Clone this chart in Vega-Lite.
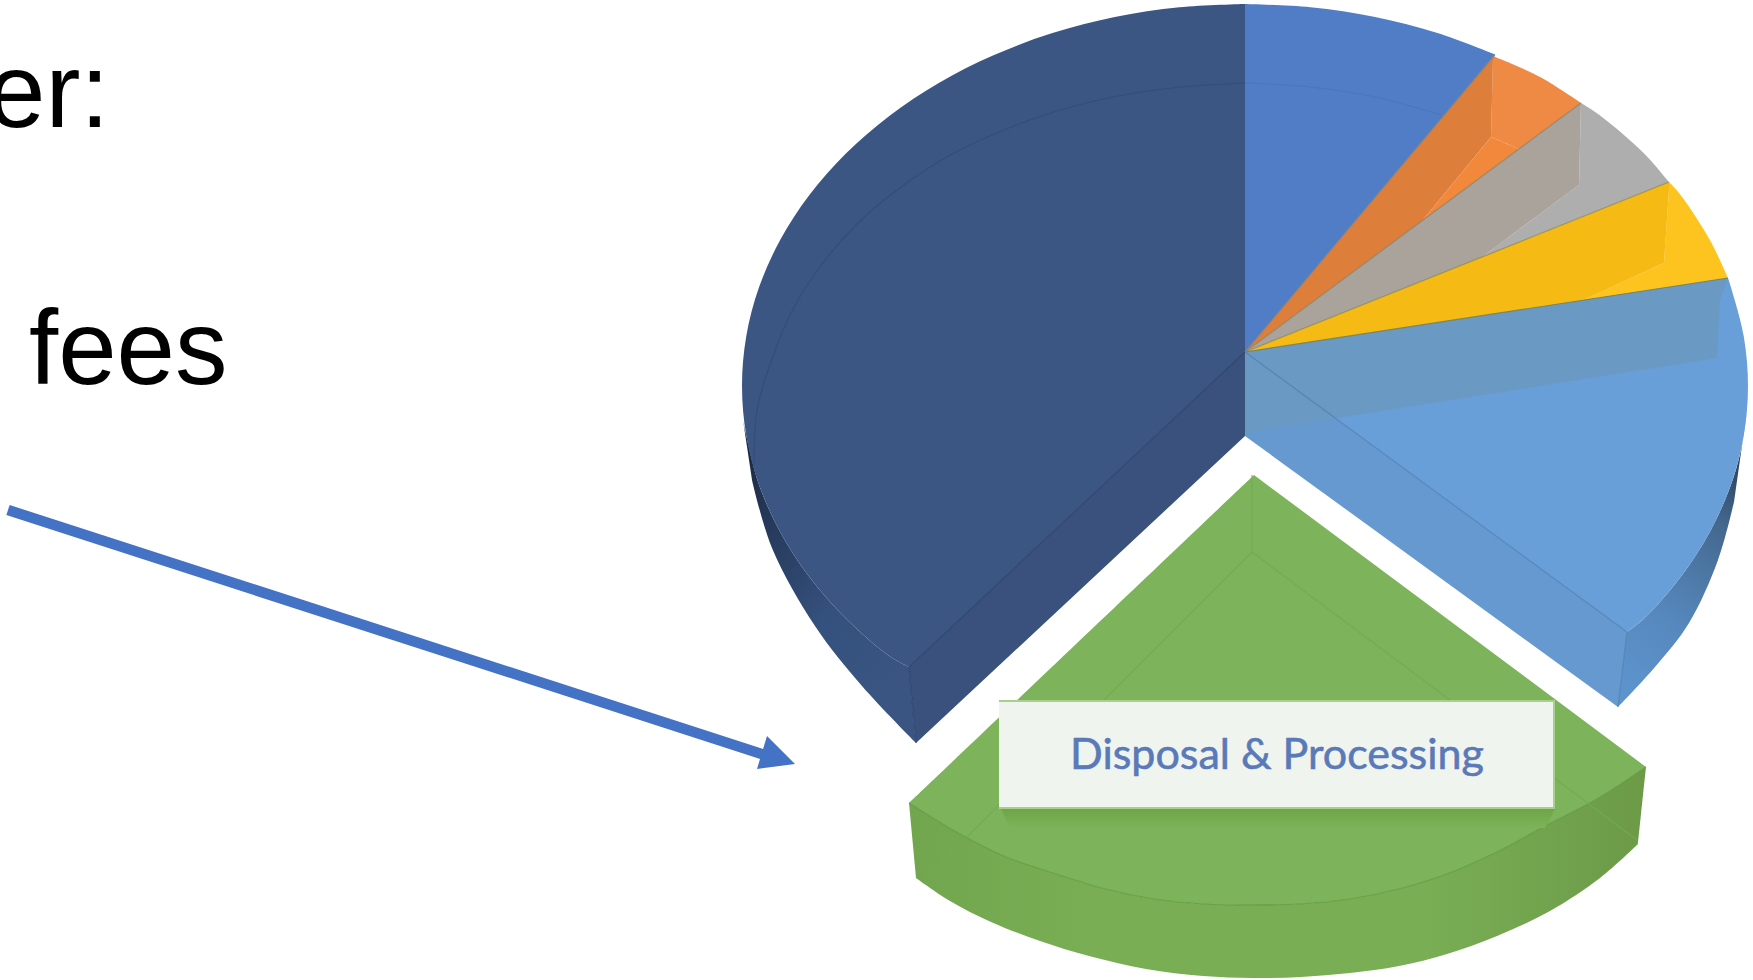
{
  "$schema": "https://vega.github.io/schema/vega-lite/v6.json",
  "width": 1753,
  "height": 980,
  "padding": 0,
  "autosize": "none",
  "background": "white",
  "view": {"stroke": null},
  "datasets": {
    "walls": [
      {"part":"wallDark","i":0,"x":743,"y":420},{"part":"wallDark","i":1,"x":746.3,"y":435.9},{"part":"wallDark","i":2,"x":759.1,"y":484.9},{"part":"wallDark","i":3,"x":780.3,"y":532.2},{"part":"wallDark","i":4,"x":809.4,"y":577},{"part":"wallDark","i":5,"x":845.9,"y":618.6},{"part":"wallDark","i":6,"x":889.3,"y":656.1},{"part":"wallDark","i":7,"x":909,"y":667},{"part":"wallDark","i":7.5,"x":909,"y":667},{"part":"wallDark","i":8,"x":916,"y":743},{"part":"wallDark","i":8.5,"x":916,"y":743},{"part":"wallDark","i":9,"x":862,"y":686},{"part":"wallDark","i":10,"x":815,"y":626},{"part":"wallDark","i":11,"x":772,"y":548},{"part":"wallDark","i":12,"x":752,"y":480},
      {"part":"wallLight","i":0,"x":1747,"y":410},{"part":"wallLight","i":1,"x":1741,"y":450},{"part":"wallLight","i":2,"x":1730.9,"y":484.9},{"part":"wallLight","i":3,"x":1709.7,"y":532.2},{"part":"wallLight","i":4,"x":1680.6,"y":577},{"part":"wallLight","i":5,"x":1644.1,"y":618.6},{"part":"wallLight","i":6,"x":1627,"y":632},{"part":"wallLight","i":6.5,"x":1627,"y":632},{"part":"wallLight","i":7,"x":1618,"y":707},{"part":"wallLight","i":7.5,"x":1618,"y":707},{"part":"wallLight","i":8,"x":1655,"y":667},{"part":"wallLight","i":9,"x":1689,"y":623},{"part":"wallLight","i":10,"x":1718,"y":560},{"part":"wallLight","i":11,"x":1734,"y":502},
      {"part":"wallGreen","i":0,"x":909,"y":803},{"part":"wallGreen","i":1,"x":958,"y":833},{"part":"wallGreen","i":2,"x":1006,"y":857},{"part":"wallGreen","i":3,"x":1056,"y":874},{"part":"wallGreen","i":4,"x":1105,"y":889},{"part":"wallGreen","i":5,"x":1154,"y":899},{"part":"wallGreen","i":6,"x":1203,"y":904},{"part":"wallGreen","i":7,"x":1252,"y":905},{"part":"wallGreen","i":8,"x":1301,"y":904},{"part":"wallGreen","i":9,"x":1350,"y":899},{"part":"wallGreen","i":10,"x":1399,"y":889},{"part":"wallGreen","i":11,"x":1447,"y":874},{"part":"wallGreen","i":12,"x":1497,"y":852},{"part":"wallGreen","i":13,"x":1545,"y":826},{"part":"wallGreen","i":14,"x":1597,"y":799},{"part":"wallGreen","i":15,"x":1646,"y":767},{"part":"wallGreen","i":15.5,"x":1646,"y":767},{"part":"wallGreen","i":16,"x":1638,"y":844},{"part":"wallGreen","i":16.5,"x":1638,"y":844},{"part":"wallGreen","i":17,"x":1600,"y":878},{"part":"wallGreen","i":18,"x":1550,"y":911},{"part":"wallGreen","i":19,"x":1497,"y":936},{"part":"wallGreen","i":20,"x":1447,"y":954},{"part":"wallGreen","i":21,"x":1399,"y":966},{"part":"wallGreen","i":22,"x":1350,"y":973},{"part":"wallGreen","i":23,"x":1301,"y":977},{"part":"wallGreen","i":24,"x":1252,"y":978},{"part":"wallGreen","i":25,"x":1203,"y":976},{"part":"wallGreen","i":26,"x":1146,"y":969},{"part":"wallGreen","i":27,"x":1089,"y":956},{"part":"wallGreen","i":28,"x":1040,"y":941},{"part":"wallGreen","i":29,"x":991,"y":922},{"part":"wallGreen","i":30,"x":950,"y":901},{"part":"wallGreen","i":31,"x":916,"y":878}
    ],
    "curvedFaces": [
      {"part":"Largest slice","i":0,"x":1245,"y":352},{"part":"Largest slice","i":0.5,"x":1245,"y":352},{"part":"Largest slice","i":1,"x":1245,"y":4},{"part":"Largest slice","i":1.5,"x":1245,"y":4},{"part":"Largest slice","i":2,"x":1179.4,"y":7.3},{"part":"Largest slice","i":3,"x":1114.8,"y":17},{"part":"Largest slice","i":4,"x":1052.5,"y":33.1},{"part":"Largest slice","i":5,"x":993.5,"y":55.2},{"part":"Largest slice","i":6,"x":938.8,"y":82.9},{"part":"Largest slice","i":7,"x":889.3,"y":115.9},{"part":"Largest slice","i":8,"x":845.9,"y":153.4},{"part":"Largest slice","i":9,"x":809.4,"y":195},{"part":"Largest slice","i":10,"x":780.3,"y":239.8},{"part":"Largest slice","i":11,"x":759.1,"y":287.1},{"part":"Largest slice","i":12,"x":746.3,"y":336.1},{"part":"Largest slice","i":13,"x":742,"y":386},{"part":"Largest slice","i":14,"x":746.3,"y":435.9},{"part":"Largest slice","i":15,"x":759.1,"y":484.9},{"part":"Largest slice","i":16,"x":780.3,"y":532.2},{"part":"Largest slice","i":17,"x":809.4,"y":577},{"part":"Largest slice","i":18,"x":845.9,"y":618.6},{"part":"Largest slice","i":19,"x":889.3,"y":656.1},{"part":"Largest slice","i":20,"x":909,"y":667},
      {"part":"Blue slice","i":0,"x":1245,"y":352},{"part":"Blue slice","i":0.5,"x":1245,"y":352},{"part":"Blue slice","i":1,"x":1245,"y":4},{"part":"Blue slice","i":1.5,"x":1245,"y":4},{"part":"Blue slice","i":2,"x":1310.6,"y":7.3},{"part":"Blue slice","i":3,"x":1375.2,"y":17},{"part":"Blue slice","i":4,"x":1437.5,"y":33.1},{"part":"Blue slice","i":5,"x":1495,"y":54.5},
      {"part":"Orange rim","i":0,"x":1493,"y":56},{"part":"Orange rim","i":0.5,"x":1493,"y":56},{"part":"Orange rim","i":1,"x":1540,"y":77},{"part":"Orange rim","i":2,"x":1581,"y":103},{"part":"Orange rim","i":2.5,"x":1581,"y":103},{"part":"Orange rim","i":3,"x":1519,"y":149},{"part":"Orange rim","i":3.5,"x":1519,"y":149},{"part":"Orange rim","i":4,"x":1491,"y":137},
      {"part":"Grey rim","i":0,"x":1581,"y":103},{"part":"Grey rim","i":0.5,"x":1581,"y":103},{"part":"Grey rim","i":1,"x":1600.7,"y":115.9},{"part":"Grey rim","i":2,"x":1644.1,"y":153.4},{"part":"Grey rim","i":3,"x":1669,"y":182},{"part":"Grey rim","i":3.5,"x":1669,"y":182},{"part":"Grey rim","i":4,"x":1482,"y":257},{"part":"Grey rim","i":4.5,"x":1482,"y":257},{"part":"Grey rim","i":5,"x":1579,"y":185},{"part":"Grey rim","i":5.5,"x":1579,"y":185},
      {"part":"Yellow rim","i":0,"x":1669,"y":182},{"part":"Yellow rim","i":0.5,"x":1669,"y":182},{"part":"Yellow rim","i":1,"x":1680.6,"y":195},{"part":"Yellow rim","i":2,"x":1709.7,"y":239.8},{"part":"Yellow rim","i":3,"x":1728,"y":278},{"part":"Yellow rim","i":3.5,"x":1728,"y":278},{"part":"Yellow rim","i":4,"x":1581,"y":301},{"part":"Yellow rim","i":4.5,"x":1581,"y":301},{"part":"Yellow rim","i":5,"x":1664,"y":263},{"part":"Yellow rim","i":5.5,"x":1664,"y":263},{"part":"Yellow rim","i":6,"x":1669,"y":190},
      {"part":"Sky slice","i":0,"x":1245,"y":352},{"part":"Sky slice","i":0.5,"x":1245,"y":352},{"part":"Sky slice","i":1,"x":1728,"y":278},{"part":"Sky slice","i":1.5,"x":1728,"y":278},{"part":"Sky slice","i":2,"x":1730.9,"y":287.1},{"part":"Sky slice","i":3,"x":1743.7,"y":336.1},{"part":"Sky slice","i":4,"x":1748,"y":386},{"part":"Sky slice","i":5,"x":1743.7,"y":435.9},{"part":"Sky slice","i":6,"x":1730.9,"y":484.9},{"part":"Sky slice","i":7,"x":1709.7,"y":532.2},{"part":"Sky slice","i":8,"x":1680.6,"y":577},{"part":"Sky slice","i":9,"x":1644.1,"y":618.6},{"part":"Sky slice","i":10,"x":1627,"y":632},
      {"part":"Green face","i":0,"x":1254,"y":475},{"part":"Green face","i":0.5,"x":1254,"y":475},{"part":"Green face","i":1,"x":909,"y":803},{"part":"Green face","i":1.5,"x":909,"y":803},{"part":"Green face","i":2,"x":958,"y":833},{"part":"Green face","i":3,"x":1006,"y":857},{"part":"Green face","i":4,"x":1056,"y":874},{"part":"Green face","i":5,"x":1105,"y":889},{"part":"Green face","i":6,"x":1154,"y":899},{"part":"Green face","i":7,"x":1203,"y":904},{"part":"Green face","i":8,"x":1252,"y":905},{"part":"Green face","i":9,"x":1301,"y":904},{"part":"Green face","i":10,"x":1350,"y":899},{"part":"Green face","i":11,"x":1399,"y":889},{"part":"Green face","i":12,"x":1447,"y":874},{"part":"Green face","i":13,"x":1497,"y":852},{"part":"Green face","i":14,"x":1545,"y":826},{"part":"Green face","i":15,"x":1597,"y":799},{"part":"Green face","i":16,"x":1646,"y":767}
    ],
    "flatFaces": [
      {"part":"Largest slice cut","i":0,"x":1245,"y":352},{"part":"Largest slice cut","i":1,"x":909,"y":667},{"part":"Largest slice cut","i":2,"x":916,"y":743},{"part":"Largest slice cut","i":3,"x":1245,"y":436},
      {"part":"Orange slice","i":0,"x":1245,"y":352},{"part":"Orange slice","i":1,"x":1495,"y":54.5},{"part":"Orange slice","i":2,"x":1493,"y":60},{"part":"Orange slice","i":3,"x":1491,"y":137},{"part":"Orange slice","i":4,"x":1422,"y":221},
      {"part":"Orange sliver","i":0,"x":1491,"y":137},{"part":"Orange sliver","i":1,"x":1519,"y":149},{"part":"Orange sliver","i":2,"x":1422,"y":221},
      {"part":"Grey slice","i":0,"x":1245,"y":352},{"part":"Grey slice","i":1,"x":1581,"y":103},{"part":"Grey slice","i":2,"x":1579,"y":185},{"part":"Grey slice","i":3,"x":1482,"y":257},
      {"part":"Yellow slice","i":0,"x":1245,"y":352},{"part":"Yellow slice","i":1,"x":1669,"y":182},{"part":"Yellow slice","i":2,"x":1669,"y":190},{"part":"Yellow slice","i":3,"x":1664,"y":263},{"part":"Yellow slice","i":4,"x":1581,"y":301},
      {"part":"Sky cut","i":0,"x":1245,"y":352},{"part":"Sky cut","i":1,"x":1627,"y":632},{"part":"Sky cut","i":2,"x":1618,"y":707},{"part":"Sky cut","i":3,"x":1245,"y":436},
      {"part":"Sky back","i":0,"x":1245,"y":352},{"part":"Sky back","i":1,"x":1728,"y":278},{"part":"Sky back","i":2,"x":1720,"y":300},{"part":"Sky back","i":3,"x":1717,"y":358},{"part":"Sky back","i":4,"x":1350,"y":416},{"part":"Sky back","i":5,"x":1252,"y":432},{"part":"Sky back","i":6,"x":1245,"y":436}
    ],
    "edges": [
      {"edge":"back arc blue","i":0,"x":1441,"y":115},{"edge":"back arc blue","i":1,"x":1375,"y":97},{"edge":"back arc blue","i":2,"x":1310,"y":87},{"edge":"back arc blue","i":3,"x":1245,"y":83},
      {"edge":"back arc dark","i":3,"x":1245,"y":83},{"edge":"back arc dark","i":4,"x":1181,"y":87},{"edge":"back arc dark","i":5,"x":1118,"y":96},{"edge":"back arc dark","i":6,"x":1057,"y":111},{"edge":"back arc dark","i":7,"x":999,"y":132},{"edge":"back arc dark","i":8,"x":945,"y":158},{"edge":"back arc dark","i":9,"x":897,"y":190},{"edge":"back arc dark","i":10,"x":855,"y":226},{"edge":"back arc dark","i":11,"x":819,"y":268},{"edge":"back arc dark","i":12,"x":791,"y":313},{"edge":"back arc dark","i":13,"x":771,"y":362},{"edge":"back arc dark","i":14,"x":757,"y":410},{"edge":"back arc dark","i":15,"x":754,"y":465},
      {"edge":"dark crease","i":0,"x":1245,"y":352},{"edge":"dark crease","i":1,"x":909,"y":667},{"edge":"dark crease","i":1.5,"x":909,"y":667},{"edge":"dark crease","i":2,"x":916,"y":743},
      {"edge":"sky crease","i":0,"x":1245,"y":352},{"edge":"sky crease","i":1,"x":1627,"y":632},{"edge":"sky crease","i":1.5,"x":1627,"y":632},{"edge":"sky crease","i":2,"x":1618,"y":707},
      {"edge":"blue seam","i":0,"x":1245,"y":352},{"edge":"blue seam","i":1,"x":1495,"y":54.5},
      {"edge":"orange seam","i":0,"x":1245,"y":352},{"edge":"orange seam","i":1,"x":1581,"y":103},
      {"edge":"grey seam","i":0,"x":1245,"y":352},{"edge":"grey seam","i":1,"x":1669,"y":182},
      {"edge":"yellow seam","i":0,"x":1245,"y":352},{"edge":"yellow seam","i":1,"x":1728,"y":278},
      {"edge":"green rim","i":0,"x":909,"y":803},{"edge":"green rim","i":1,"x":958,"y":833},{"edge":"green rim","i":2,"x":1006,"y":857},{"edge":"green rim","i":3,"x":1056,"y":874},{"edge":"green rim","i":4,"x":1105,"y":889},{"edge":"green rim","i":5,"x":1154,"y":899},{"edge":"green rim","i":6,"x":1203,"y":904},{"edge":"green rim","i":7,"x":1252,"y":905},{"edge":"green rim","i":8,"x":1301,"y":904},{"edge":"green rim","i":9,"x":1350,"y":899},{"edge":"green rim","i":10,"x":1399,"y":889},{"edge":"green rim","i":11,"x":1447,"y":874},{"edge":"green rim","i":12,"x":1497,"y":852},{"edge":"green rim","i":13,"x":1545,"y":826},{"edge":"green rim","i":14,"x":1597,"y":799},{"edge":"green rim","i":15,"x":1646,"y":767},
      {"edge":"green inner left","i":0,"x":1252,"y":475},{"edge":"green inner left","i":1,"x":1252,"y":552},{"edge":"green inner left","i":1.5,"x":1252,"y":552},{"edge":"green inner left","i":2,"x":926,"y":878},
      {"edge":"green inner right","i":0,"x":1252,"y":552},{"edge":"green inner right","i":1,"x":1637,"y":840}
    ],
    "callout": [
      {"part":"shadow","i":0,"x":1000,"y":807},{"part":"shadow","i":1,"x":1556,"y":807},{"part":"shadow","i":2,"x":1545,"y":828},{"part":"shadow","i":3,"x":1010,"y":828},
      {"part":"box","i":0,"x":999,"y":701},{"part":"box","i":1,"x":1554,"y":701},{"part":"box","i":2,"x":1554,"y":808},{"part":"box","i":3,"x":999,"y":808}
    ],
    "arrow": [
      {"part":"shaft","i":0,"x":8,"y":510},{"part":"shaft","i":1,"x":768,"y":756},
      {"part":"head","i":0,"x":767,"y":736},{"part":"head","i":1,"x":795,"y":764},{"part":"head","i":2,"x":757,"y":769}
    ]
  },
  "encoding": {
    "x": {"field": "x", "type": "quantitative", "scale": {"domain": [0, 1753], "nice": false, "zero": false}, "axis": null},
    "y": {"field": "y", "type": "quantitative", "scale": {"domain": [980, 0], "nice": false, "zero": false}, "axis": null}
  },
  "layer": [
    {
      "data": {"name": "walls"},
      "transform": [{"filter": "datum.part === 'wallDark'"}],
      "mark": {"type": "line", "filled": true, "interpolate": "catmull-rom", "color": {"gradient": "linear", "x1": 0, "y1": 0, "x2": 0.6, "y2": 1, "stops": [{"offset": 0, "color": "#18243a"}, {"offset": 0.3, "color": "#26395a"}, {"offset": 0.65, "color": "#34507c"}, {"offset": 1, "color": "#3a5582"}]}},
      "encoding": {"order": {"field": "i"}}
    },
    {
      "data": {"name": "walls"},
      "transform": [{"filter": "datum.part === 'wallLight'"}],
      "mark": {"type": "line", "filled": true, "interpolate": "catmull-rom", "color": {"gradient": "linear", "x1": 0.6, "y1": 0, "x2": 0.3, "y2": 1, "stops": [{"offset": 0, "color": "#27384f"}, {"offset": 0.3, "color": "#44688f"}, {"offset": 0.7, "color": "#5688bd"}, {"offset": 1, "color": "#5d93cc"}]}},
      "encoding": {"order": {"field": "i"}}
    },
    {
      "data": {"name": "walls"},
      "transform": [{"filter": "datum.part === 'wallGreen'"}],
      "mark": {"type": "line", "filled": true, "interpolate": "catmull-rom", "color": {"gradient": "linear", "x1": 0, "y1": 0, "x2": 1, "y2": 0, "stops": [{"offset": 0, "color": "#72a64e"}, {"offset": 0.25, "color": "#79ae55"}, {"offset": 0.7, "color": "#79ae55"}, {"offset": 1, "color": "#6c9a47"}]}},
      "encoding": {"order": {"field": "i"}}
    },
    {
      "data": {"name": "curvedFaces"},
      "mark": {"type": "line", "filled": true, "interpolate": "catmull-rom"},
      "encoding": {
        "order": {"field": "i"},
        "color": {
          "field": "part",
          "type": "nominal",
          "legend": null,
          "scale": {
            "domain": ["Largest slice", "Blue slice", "Orange rim", "Grey rim", "Yellow rim", "Sky slice", "Green face"],
            "range": ["#3c5684", "#517dc6", "#ee8a44", "#aeaeae", "#fdc31e", "#689fd9", "#7db35a"]
          }
        }
      }
    },
    {
      "data": {"name": "flatFaces"},
      "mark": {"type": "line", "filled": true},
      "encoding": {
        "order": {"field": "i"},
        "color": {
          "field": "part",
          "type": "nominal",
          "legend": null,
          "scale": {
            "domain": ["Largest slice cut", "Orange slice", "Orange sliver", "Grey slice", "Yellow slice", "Sky cut", "Sky back"],
            "range": ["#39517c", "#dd7e3b", "#f2883c", "#a9a39c", "#f6ba15", "#6599cf", "#6a9ac3"]
          }
        }
      }
    },
    {
      "data": {"name": "edges"},
      "mark": {"type": "line", "strokeWidth": 1.2, "opacity": 0.85, "interpolate": "catmull-rom"},
      "encoding": {
        "order": {"field": "i"},
        "color": {
          "field": "edge",
          "type": "nominal",
          "legend": null,
          "scale": {
            "domain": ["back arc blue", "back arc dark", "dark crease", "sky crease", "blue seam", "orange seam", "grey seam", "yellow seam", "green rim", "green inner left", "green inner right"],
            "range": ["#4a74b8", "#324b77", "#2b4268", "#4f82b6", "#7a7f8a", "#8f8368", "#8f8a55", "#6f7f60", "#5f9a3e", "#74aa50", "#74aa50"]
          }
        }
      }
    },
    {
      "data": {"name": "callout"},
      "transform": [{"filter": "datum.part === 'shadow'"}],
      "mark": {"type": "line", "filled": true, "color": {"gradient": "linear", "x1": 0, "y1": 0, "x2": 0, "y2": 1, "stops": [{"offset": 0, "color": "#6ba445"}, {"offset": 1, "color": "#7db35a"}]}},
      "encoding": {"order": {"field": "i"}}
    },
    {
      "data": {"name": "callout"},
      "transform": [{"filter": "datum.part === 'box'"}],
      "mark": {"type": "line", "filled": true, "fill": "#eff4ee", "stroke": "#a8cf8c", "strokeWidth": 2},
      "encoding": {"order": {"field": "i"}}
    },
    {
      "data": {"values": [{"x": 1277, "y": 769, "label": "Disposal & Processing"}]},
      "mark": {"type": "text", "font": "Lato", "fontSize": 43, "align": "center", "baseline": "alphabetic", "color": "#5a79b8", "stroke": "#5a79b8", "strokeWidth": 0.6},
      "encoding": {"text": {"field": "label"}}
    },
    {
      "data": {"values": [{"x": -13, "y": 127, "label": "er:"}, {"x": 29, "y": 384, "label": "fees"}]},
      "mark": {"type": "text", "font": "Liberation Sans", "fontSize": 105, "align": "left", "baseline": "alphabetic", "color": "#000000"},
      "encoding": {"text": {"field": "label"}}
    },
    {
      "data": {"name": "arrow"},
      "transform": [{"filter": "datum.part === 'shaft'"}],
      "mark": {"type": "line", "color": "#4472c4", "strokeWidth": 10.5},
      "encoding": {"order": {"field": "i"}}
    },
    {
      "data": {"name": "arrow"},
      "transform": [{"filter": "datum.part === 'head'"}],
      "mark": {"type": "line", "filled": true, "color": "#4472c4"},
      "encoding": {"order": {"field": "i"}}
    }
  ],
  "resolve": {"scale": {"color": "independent"}}
}
